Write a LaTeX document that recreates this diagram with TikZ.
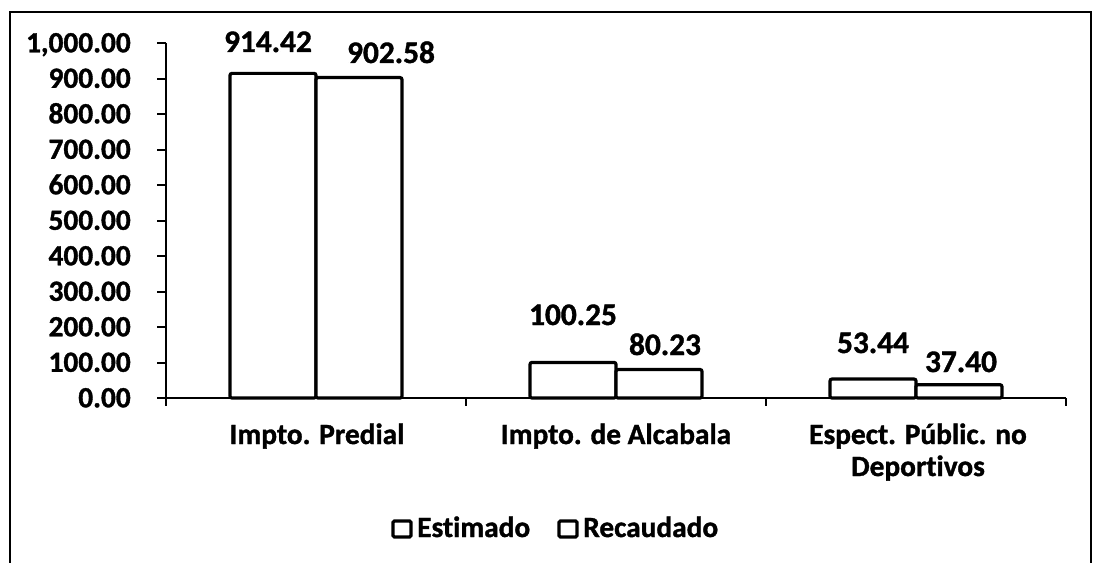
\documentclass[tikz,border=0pt]{standalone}
\usepackage{fontspec}
\setmainfont{Carlito}[BoldFeatures={FakeBold=1.2},RawFeature=-liga]
\begin{document}
\begin{tikzpicture}[x=0.75pt,y=-0.75pt,
  lbl/.style={inner sep=0pt,font=\fontsize{22}{26}\selectfont\bfseries},
  ylab/.style={lbl,anchor=base east},
  vlab/.style={lbl,anchor=base},
  vallab/.style={inner sep=0pt,anchor=base,font=\fontsize{23.5}{28}\selectfont\bfseries},
  bar/.style={draw=black,line width=2.4pt,rounded corners=1.5pt,fill=white},
  axis/.style={draw=black,line width=1.5pt},
  legbox/.style={draw=black,line width=2.4pt,rounded corners=1pt,fill=white}]
\useasboundingbox (0,0) rectangle (1094,563);
\fill[white] (0,0) rectangle (1094,563);
% frame
\draw[line width=1.5pt] (10,563) -- (10,12) -- (1091,12) -- (1091,563);
% y axis ticks and labels
\foreach \v/\t in {0/0.00,100/100.00,200/200.00,300/300.00,400/400.00,500/500.00,600/600.00,700/700.00,800/800.00,900/900.00,1000/{1,000.00}}{
  \draw[axis] (157,{398-0.355*\v}) -- (166,{398-0.355*\v});
  \node[ylab] at (131,{398-0.355*\v+9.3}) {\t};
}
\draw[axis] (166,43) -- (166,406);
% bars
\draw[bar] (230,398) rectangle (316,{398-0.355*914.42});
\draw[bar] (316,398) rectangle (402,{398-0.355*902.58});
\draw[bar] (530,398) rectangle (616,{398-0.355*100.25});
\draw[bar] (616,398) rectangle (702,{398-0.355*80.23});
\draw[bar] (830,398) rectangle (916,{398-0.355*53.44});
\draw[bar] (916,398) rectangle (1002,{398-0.355*37.40});
% x axis
\draw[axis] (157,398) -- (1066,398);
\foreach \x in {466,766,1066}{\draw[axis] (\x,398) -- (\x,406);}
% value labels
\node[vallab] (v1) at (268,52) {914.42};
\node[vallab] (v2) at (391,63) {902.58};
\node[vallab] (v3) at (573,325) {100.25};
\node[vallab] (v4) at (665,355) {80.23};
\node[vallab] (v5) at (873,353) {53.44};
\node[vallab] (v6) at (961,372) {37.40};
% category labels
\node[vlab] (c1) at (317,444) {Impto. Predial};
\node[vlab] (c2) at (616,444) {Impto. de Alcabala};
\node[vlab] (c3a) at (918,444) {Espect. Públic. no};
\node[vlab] (c3b) at (918,476) {Deportivos};
% legend
\draw[legbox] (393,521) rectangle (411,537);
\node[lbl,anchor=base west] (l1) at (417,537) {Estimado};
\draw[legbox] (559,521) rectangle (577,537);
\node[lbl,anchor=base west] (l2) at (583,537) {Recaudado};
\end{tikzpicture}
\end{document}
